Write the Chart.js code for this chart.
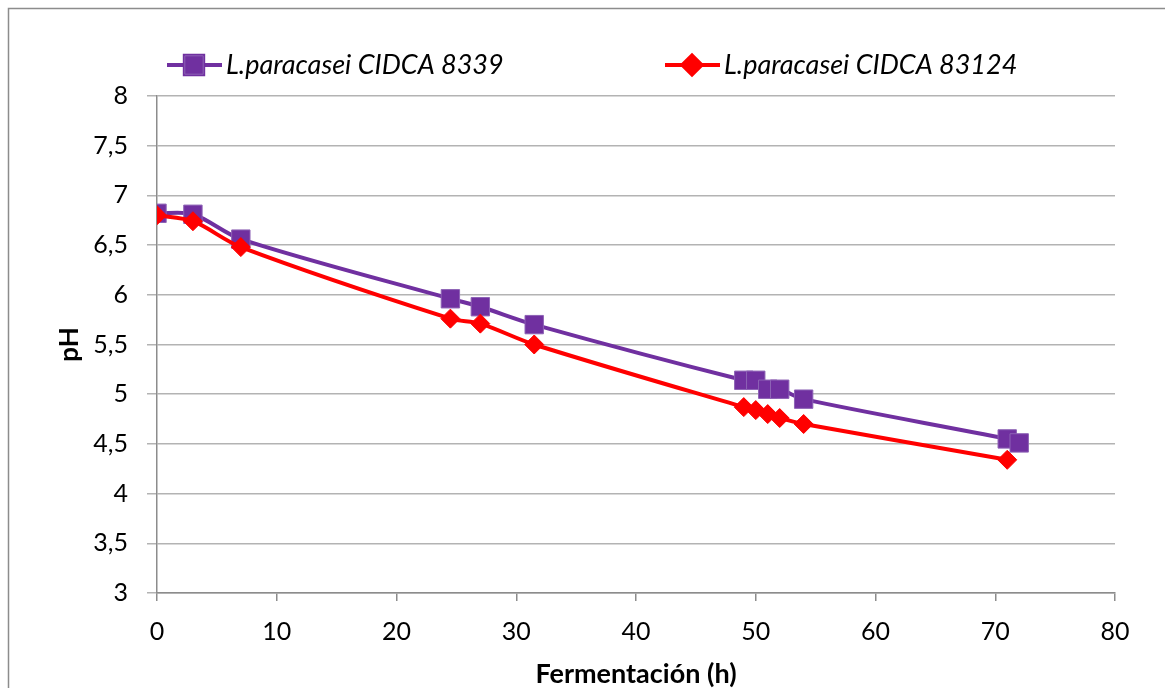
<!DOCTYPE html>
<html>
<head>
<meta charset="utf-8">
<script src="https://cdn.jsdelivr.net/npm/chart.js@4.4.1/dist/chart.umd.min.js"></script>
<style>
  html, body { margin: 0; padding: 0; background: #ffffff; }
  #wrap { width: 1165px; height: 688px; position: relative; }
</style>
</head>
<body>
<div id="wrap"><canvas id="c" width="1165" height="688"></canvas></div>
<script>
// Fermentation time (h) and pH for each strain
const hours8339  = [0, 3, 7, 24.5, 27, 31.5, 49, 50, 51, 52, 54, 71, 72];
const ph8339     = [6.82, 6.81, 6.56, 5.96, 5.88, 5.70, 5.14, 5.14, 5.05, 5.05, 4.95, 4.55, 4.51];
const hours83124 = [0, 3, 7, 24.5, 27, 31.5, 49, 50, 51, 52, 54, 71];
const ph83124    = [6.80, 6.74, 6.48, 5.76, 5.71, 5.50, 4.87, 4.84, 4.80, 4.76, 4.70, 4.34];

const seriesNames = ['L.paracasei CIDCA 8339', 'L.paracasei CIDCA 83124'];
const xTickLabels = ['0', '10', '20', '30', '40', '50', '60', '70', '80'];
const yTickLabels = ['3', '3,5', '4', '4,5', '5', '5,5', '6', '6,5', '7', '7,5', '8'];
const xTitle = 'Fermentación (h)';
const yTitle = 'pH';

const toPoints = (xs, ys) => xs.map((x, i) => ({ x: x, y: ys[i] }));

const FONT = 'Lato, "Open Sans", sans-serif';

// Outer frame of the chart
const framePlugin = {
  id: 'frame',
  beforeDraw(chart) {
    const ctx = chart.ctx;
    ctx.save();
    ctx.fillStyle = '#ffffff';
    ctx.fillRect(0, 0, chart.width, chart.height);
    ctx.strokeStyle = '#8c8c8c';
    ctx.lineWidth = 1.5;
    ctx.strokeRect(8.5, 8.5, chart.width + 20, chart.height + 20);
    ctx.restore();
  }
};

// Key above the plot: line segment with marker, then italic series name
const keyPlugin = {
  id: 'seriesKey',
  afterDraw(chart) {
    const ctx = chart.ctx;
    const starts = [167, 665];
    const y = 65;
    ctx.save();
    chart.data.datasets.forEach((ds, i) => {
      const x0 = starts[i];
      ctx.strokeStyle = ds.borderColor;
      ctx.lineWidth = ds.borderWidth;
      ctx.beginPath();
      ctx.moveTo(x0, y);
      ctx.lineTo(x0 + 55, y);
      ctx.stroke();
      Chart.helpers.drawPoint(ctx, {
        pointStyle: ds.pointStyle,
        radius: ds.pointRadius,
        rotation: 0,
        borderWidth: ds.pointBorderWidth
      }, x0 + 27, y);
      ctx.fillStyle = ds.pointBackgroundColor;
      ctx.strokeStyle = ds.pointBorderColor;
      ctx.lineWidth = ds.pointBorderWidth;
      ctx.fill();
      ctx.stroke();
      ctx.fillStyle = '#000000';
      ctx.font = 'italic 27px ' + FONT;
      ctx.textBaseline = 'middle';
      ctx.textAlign = 'left';
      ctx.fillText(ds.label, x0 + 59, y);
    });
    ctx.restore();
  }
};

new Chart(document.getElementById('c'), {
  type: 'line',
  data: {
    datasets: [
      {
        label: seriesNames[0],
        data: toPoints(hours8339, ph8339),
        borderColor: '#7030a0',
        borderWidth: 4,
        pointStyle: 'rect',
        pointRadius: 13,
        pointBackgroundColor: '#7030a0',
        pointBorderColor: '#8d62b5',
        pointBorderWidth: 1,
        tension: 0.3,
        order: 1
      },
      {
        label: seriesNames[1],
        data: toPoints(hours83124, ph83124),
        borderColor: '#ff0000',
        borderWidth: 4,
        pointStyle: 'rectRot',
        pointRadius: 9.5,
        pointBackgroundColor: '#ff0000',
        pointBorderColor: '#ff0000',
        pointBorderWidth: 1,
        tension: 0.3,
        order: 0
      }
    ]
  },
  options: {
    responsive: false,
    animation: false,
    devicePixelRatio: 1,
    layout: { padding: { top: 96, right: 50, bottom: 0, left: 0 } },
    plugins: {
      legend: { display: false },
      tooltip: { enabled: false }
    },
    scales: {
      x: {
        type: 'linear',
        min: 0,
        max: 80,
        ticks: {
          stepSize: 10,
          color: '#000000',
          font: { family: FONT, size: 25 },
          padding: 16,
          maxRotation: 0,
          callback: (v, i) => xTickLabels[i]
        },
        grid: {
          display: true,
          drawOnChartArea: false,
          drawTicks: true,
          tickLength: 8,
          color: '#8c8c8c',
          lineWidth: 1.5
        },
        border: { display: true, color: '#8c8c8c', width: 1.5 },
        title: {
          display: true,
          text: xTitle,
          color: '#000000',
          font: { family: FONT, size: 27, weight: 'bold', lineHeight: 1 },
          padding: { top: 0, bottom: 0 }
        },
        afterFit: (scale) => { scale.height = 95; }
      },
      y: {
        type: 'linear',
        min: 3,
        max: 8,
        ticks: {
          stepSize: 0.5,
          color: '#000000',
          font: { family: FONT, size: 25 },
          padding: 19,
          callback: (v, i) => yTickLabels[i]
        },
        grid: {
          color: '#b3b3b3',
          lineWidth: 1.5,
          tickLength: 10
        },
        border: { display: true, color: '#8c8c8c', width: 1.5 },
        title: {
          display: true,
          text: yTitle,
          color: '#000000',
          font: { family: FONT, size: 26, weight: 'bold', lineHeight: 1 },
          padding: { top: 57, bottom: 0 }
        },
        afterFit: (scale) => { scale.width = 157; }
      }
    }
  },
  plugins: [framePlugin, keyPlugin]
});
</script>
</body>
</html>
